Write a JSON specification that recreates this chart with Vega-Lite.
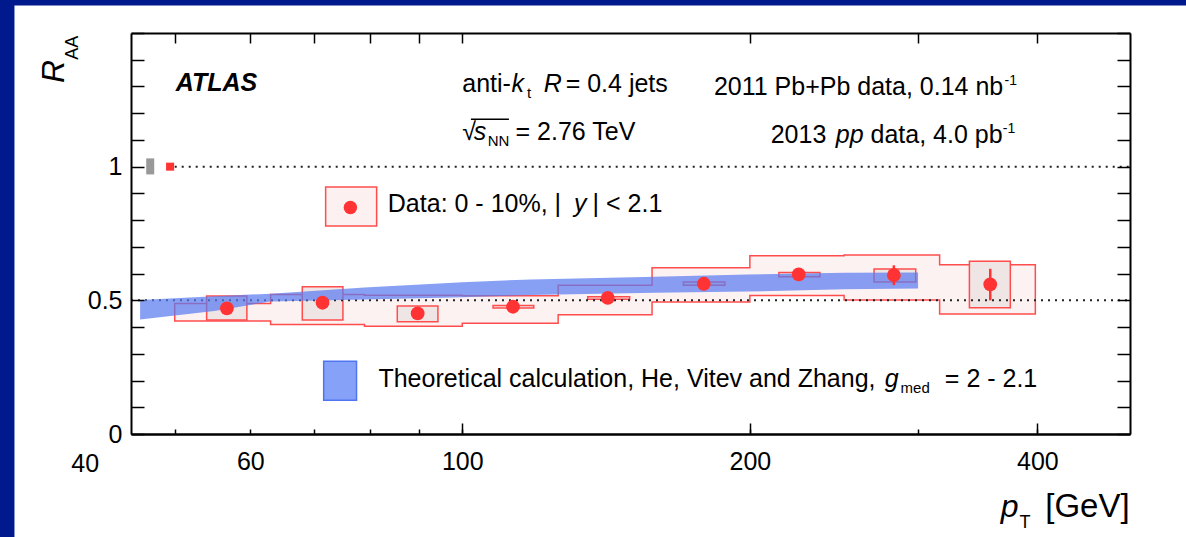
{
  "$schema": "https://vega.github.io/schema/vega-lite/v6.json",
  "width": 999,
  "height": 401,
  "autosize": {"type": "none"},
  "padding": {"left": 131, "top": 33, "right": 56, "bottom": 103},
  "background": "white",
  "config": {
    "view": {"stroke": null},
    "axis": {"domainColor": "black", "domainWidth": 2, "tickColor": "black", "tickWidth": 1.5, "labelFont": "Liberation Sans", "labelFontSize": 25, "labelColor": "black", "grid": false, "title": null, "labelOverlap": false, "labelFlush": false, "labelBound": false},
    "text": {"font": "Liberation Sans", "color": "black", "align": "left", "baseline": "alphabetic", "fontSize": 25}
  },
  "datasets": {
    "corr": [
      {"pt": 50, "lo": 0.423, "hi": 0.488},
      {"pt": 63, "lo": 0.410, "hi": 0.522},
      {"pt": 79, "lo": 0.403, "hi": 0.519},
      {"pt": 100, "lo": 0.414, "hi": 0.517},
      {"pt": 126, "lo": 0.446, "hi": 0.556},
      {"pt": 158, "lo": 0.494, "hi": 0.622},
      {"pt": 200, "lo": 0.518, "hi": 0.667},
      {"pt": 251, "lo": 0.501, "hi": 0.670},
      {"pt": 316, "lo": 0.449, "hi": 0.633},
      {"pt": 398, "lo": 0.449, "hi": 0.633}
    ],
    "pts": [
      {"pt": 56.7, "R": 0.470, "slo": 0.459, "shi": 0.481, "ulo": 0.426, "uhi": 0.516, "bxlo": 54.0, "bxhi": 59.5},
      {"pt": 71.4, "R": 0.491, "slo": 0.479, "shi": 0.503, "ulo": 0.426, "uhi": 0.551, "bxlo": 68.0, "bxhi": 75.0},
      {"pt": 89.8, "R": 0.451, "slo": 0.440, "shi": 0.462, "ulo": 0.420, "uhi": 0.479, "bxlo": 85.5, "bxhi": 94.3},
      {"pt": 113, "R": 0.476, "slo": 0.465, "shi": 0.487, "ulo": 0.471, "uhi": 0.481, "bxlo": 107.7, "bxhi": 118.8},
      {"pt": 142, "R": 0.509, "slo": 0.498, "shi": 0.520, "ulo": 0.504, "uhi": 0.513, "bxlo": 135.3, "bxhi": 149.7},
      {"pt": 179, "R": 0.562, "slo": 0.550, "shi": 0.574, "ulo": 0.556, "uhi": 0.569, "bxlo": 170.4, "bxhi": 188.3},
      {"pt": 225, "R": 0.597, "slo": 0.585, "shi": 0.609, "ulo": 0.588, "uhi": 0.604, "bxlo": 214.5, "bxhi": 236.8},
      {"pt": 283, "R": 0.594, "slo": 0.557, "shi": 0.631, "ulo": 0.569, "uhi": 0.617, "bxlo": 269.8, "bxhi": 298.3},
      {"pt": 357, "R": 0.560, "slo": 0.500, "shi": 0.618, "ulo": 0.472, "uhi": 0.646, "bxlo": 339.5, "bxhi": 374.7}
    ],
    "theory": [
      {"pt": 46, "lo": 0.428, "hi": 0.501},
      {"pt": 55, "lo": 0.460, "hi": 0.515},
      {"pt": 63, "lo": 0.496, "hi": 0.525},
      {"pt": 79, "lo": 0.503, "hi": 0.548},
      {"pt": 100, "lo": 0.512, "hi": 0.568},
      {"pt": 118, "lo": 0.5195, "hi": 0.578},
      {"pt": 159, "lo": 0.528, "hi": 0.588},
      {"pt": 199, "lo": 0.533, "hi": 0.597},
      {"pt": 251, "lo": 0.541, "hi": 0.603},
      {"pt": 300, "lo": 0.5445, "hi": 0.6045}
    ]
  },
  "resolve": {"axis": {"x": "independent", "y": "independent"}},
  "layer": [
    {"data": {"name": "corr"}, "mark": {"type": "area", "interpolate": "step-after", "fill": "#fdf2f2", "stroke": "#ff4d4d", "strokeWidth": 1.5},
     "encoding": {
       "x": {"field": "pt", "type": "quantitative", "scale": {"type": "log", "domain": [45, 500], "nice": false},
             "axis": {"zindex": 2, "orient": "bottom", "values": [50, 60, 70, 80, 90, 100, 200, 300, 400], "tickSize": -5, "labelPadding": 20, "labelExpr": "indexof([60,100,200,400], datum.value) >= 0 ? toString(datum.value) : ''"}},
       "y": {"field": "lo", "type": "quantitative", "scale": {"domain": [0, 1.5], "nice": false, "zero": false},
             "axis": {"zindex": 2, "orient": "left", "values": [0, 0.1, 0.2, 0.3, 0.4, 0.5, 0.6, 0.7, 0.8, 0.9, 1, 1.1, 1.2, 1.3, 1.4, 1.5], "tickSize": -13, "labelPadding": 22, "labelExpr": "datum.value == 0 ? '0' : (datum.value == 0.5 ? '0.5' : (datum.value == 1 ? '1' : ''))"}},
       "y2": {"field": "hi"}}},
    {"data": {"values": [{}]}, "mark": {"type": "rect", "fill": "#001a8e"},
     "encoding": {"x": {"datum": 30, "type": "quantitative", "axis": null}, "x2": {"datum": 33.98},
                  "y": {"datum": -0.5, "type": "quantitative", "axis": null}, "y2": {"datum": 1.7}}},
    {"data": {"values": [{}]}, "mark": {"type": "rect", "fill": "#001a8e"},
     "encoding": {"x": {"datum": 30, "type": "quantitative", "axis": null}, "x2": {"datum": 600},
                  "y": {"datum": 1.6031, "type": "quantitative", "axis": null}, "y2": {"datum": 1.7}}},
    {"data": {"name": "pts"}, "mark": {"type": "rect", "fill": "#f0e5e5", "stroke": "#ff4d4d", "strokeWidth": 1.5},
     "encoding": {
       "x": {"field": "bxlo", "type": "quantitative", "axis": {"zindex": 2, "orient": "bottom", "values": [100, 200, 400], "tickSize": -11, "labels": false}},
       "x2": {"field": "bxhi"},
       "y": {"field": "ulo", "type": "quantitative", "axis": {"zindex": 2, "orient": "right", "values": [0, 0.1, 0.2, 0.3, 0.4, 0.5, 0.6, 0.7, 0.8, 0.9, 1, 1.1, 1.2, 1.3, 1.4, 1.5], "tickSize": -13, "labels": false}},
       "y2": {"field": "uhi"}}},
    {"data": {"values": [{}]}, "mark": {"type": "rule", "stroke": "#222222", "strokeWidth": 2, "strokeDash": [2, 5]},
     "encoding": {"x": {"datum": 50, "type": "quantitative", "axis": null}, "x2": {"datum": 500}, "y": {"datum": 1, "type": "quantitative", "axis": null}}},
    {"data": {"values": [{}]}, "mark": {"type": "rule", "stroke": "#222222", "strokeWidth": 2, "strokeDash": [2, 5]},
     "encoding": {"x": {"datum": 45, "type": "quantitative", "axis": null}, "x2": {"datum": 500}, "y": {"datum": 0.5, "type": "quantitative", "axis": null}}},
    {"data": {"name": "theory"}, "mark": {"type": "area", "fill": "#5a7cf0", "fillOpacity": 0.72},
     "encoding": {
       "x": {"field": "pt", "type": "quantitative", "axis": {"zindex": 2, "orient": "top", "values": [50, 60, 70, 80, 90, 100, 200, 300, 400], "tickSize": -10, "labels": false}},
       "y": {"field": "lo", "type": "quantitative", "axis": null},
       "y2": {"field": "hi"}}},
    {"data": {"name": "pts"}, "mark": {"type": "rule", "stroke": "#ff3333", "strokeWidth": 2.5},
     "encoding": {"x": {"field": "pt", "type": "quantitative", "axis": null}, "y": {"field": "slo", "type": "quantitative", "axis": null}, "y2": {"field": "shi"}}},
    {"data": {"name": "pts"}, "mark": {"type": "point", "shape": "circle", "filled": true, "size": 190, "color": "#ff3333", "opacity": 1},
     "encoding": {"x": {"field": "pt", "type": "quantitative", "axis": null}, "y": {"field": "R", "type": "quantitative", "axis": null}}},
    {"data": {"values": [{}]}, "mark": {"type": "rect", "fill": "#999999"},
     "encoding": {"x": {"datum": 46.68, "type": "quantitative", "axis": null}, "x2": {"datum": 47.59}, "y": {"datum": 0.971, "type": "quantitative", "axis": null}, "y2": {"datum": 1.031}}},
    {"data": {"values": [{}]}, "mark": {"type": "rect", "fill": "#ff3333"},
     "encoding": {"x": {"datum": 48.97, "type": "quantitative", "axis": null}, "x2": {"datum": 49.93}, "y": {"datum": 0.985, "type": "quantitative", "axis": null}, "y2": {"datum": 1.015}}},
    {"data": {"values": [{}]}, "mark": {"type": "rect", "fill": "#fdf0f0", "stroke": "#ff4d4d", "strokeWidth": 1.5},
     "encoding": {"x": {"datum": 71.94, "type": "quantitative", "axis": null}, "x2": {"datum": 81.35}, "y": {"datum": 0.778, "type": "quantitative", "axis": null}, "y2": {"datum": 0.924}}},
    {"data": {"values": [{}]}, "mark": {"type": "point", "shape": "circle", "filled": true, "size": 180, "color": "#ff3333", "opacity": 1},
     "encoding": {"x": {"datum": 76.36, "type": "quantitative", "axis": null}, "y": {"datum": 0.8472, "type": "quantitative", "axis": null}}},
    {"data": {"values": [{}]}, "mark": {"type": "rect", "fill": "#86a2f8", "stroke": "#4f74f2", "strokeWidth": 1.5},
     "encoding": {"x": {"datum": 71.6, "type": "quantitative", "axis": null}, "x2": {"datum": 77.5}, "y": {"datum": 0.1262, "type": "quantitative", "axis": null}, "y2": {"datum": 0.2723}}},
    {"data": {"values": [{}]}, "mark": {"type": "text", "text": "ATLAS", "fontSize": 25, "fontStyle": "italic", "fontWeight": "bold"},
     "encoding": {"x": {"datum": 50.12, "type": "quantitative", "axis": null}, "y": {"datum": 1.2846, "type": "quantitative", "axis": null}}},
    {"data": {"values": [{}]}, "mark": {"type": "text", "text": "anti-"},
     "encoding": {"x": {"datum": 100.0, "type": "quantitative", "axis": null}, "y": {"datum": 1.2809, "type": "quantitative", "axis": null}}},
    {"data": {"values": [{}]}, "mark": {"type": "text", "text": "k", "fontStyle": "italic"},
     "encoding": {"x": {"datum": 112.6, "type": "quantitative", "axis": null}, "y": {"datum": 1.2809, "type": "quantitative", "axis": null}}},
    {"data": {"values": [{}]}, "mark": {"type": "text", "text": "t", "fontSize": 15},
     "encoding": {"x": {"datum": 116.9, "type": "quantitative", "axis": null}, "y": {"datum": 1.2584, "type": "quantitative", "axis": null}}},
    {"data": {"values": [{}]}, "mark": {"type": "text", "text": "R", "fontStyle": "italic"},
     "encoding": {"x": {"datum": 121.7, "type": "quantitative", "axis": null}, "y": {"datum": 1.2809, "type": "quantitative", "axis": null}}},
    {"data": {"values": [{}]}, "mark": {"type": "text", "text": "= 0.4 jets"},
     "encoding": {"x": {"datum": 128.3, "type": "quantitative", "axis": null}, "y": {"datum": 1.2809, "type": "quantitative", "axis": null}}},
    {"data": {"values": [{}]}, "mark": {"type": "text", "text": "√"},
     "encoding": {"x": {"datum": 100.0, "type": "quantitative", "axis": null}, "y": {"datum": 1.1, "type": "quantitative", "axis": null}}},
    {"data": {"values": [{}]}, "mark": {"type": "rule", "stroke": "black", "strokeWidth": 1.5},
     "encoding": {"x": {"datum": 102.1, "type": "quantitative", "axis": null}, "x2": {"datum": 111.9}, "y": {"datum": 1.1775, "type": "quantitative", "axis": null}}},
    {"data": {"values": [{}]}, "mark": {"type": "text", "text": "s", "fontStyle": "italic"},
     "encoding": {"x": {"datum": 102.8, "type": "quantitative", "axis": null}, "y": {"datum": 1.1, "type": "quantitative", "axis": null}}},
    {"data": {"values": [{}]}, "mark": {"type": "text", "text": "NN", "fontSize": 15},
     "encoding": {"x": {"datum": 106.3, "type": "quantitative", "axis": null}, "y": {"datum": 1.0775, "type": "quantitative", "axis": null}}},
    {"data": {"values": [{}]}, "mark": {"type": "text", "text": "= 2.76 TeV"},
     "encoding": {"x": {"datum": 113.7, "type": "quantitative", "axis": null}, "y": {"datum": 1.1, "type": "quantitative", "axis": null}}},
    {"data": {"values": [{}]}, "mark": {"type": "text", "text": "2011 Pb+Pb data, 0.14 nb"},
     "encoding": {"x": {"datum": 183.4, "type": "quantitative", "axis": null}, "y": {"datum": 1.2685, "type": "quantitative", "axis": null}}},
    {"data": {"values": [{}]}, "mark": {"type": "text", "text": "-1", "fontSize": 14},
     "encoding": {"x": {"datum": 369.5, "type": "quantitative", "axis": null}, "y": {"datum": 1.306, "type": "quantitative", "axis": null}}},
    {"data": {"values": [{}]}, "mark": {"type": "text", "text": "2013"},
     "encoding": {"x": {"datum": 210.3, "type": "quantitative", "axis": null}, "y": {"datum": 1.0876, "type": "quantitative", "axis": null}}},
    {"data": {"values": [{}]}, "mark": {"type": "text", "text": "pp", "fontStyle": "italic"},
     "encoding": {"x": {"datum": 246.0, "type": "quantitative", "axis": null}, "y": {"datum": 1.0876, "type": "quantitative", "axis": null}}},
    {"data": {"values": [{}]}, "mark": {"type": "text", "text": "data, 4.0 pb"},
     "encoding": {"x": {"datum": 267.5, "type": "quantitative", "axis": null}, "y": {"datum": 1.0876, "type": "quantitative", "axis": null}}},
    {"data": {"values": [{}]}, "mark": {"type": "text", "text": "-1", "fontSize": 14},
     "encoding": {"x": {"datum": 368.0, "type": "quantitative", "axis": null}, "y": {"datum": 1.1262, "type": "quantitative", "axis": null}}},
    {"data": {"values": [{}]}, "mark": {"type": "text", "text": "Data: 0 - 10%, |"},
     "encoding": {"x": {"datum": 83.57, "type": "quantitative", "axis": null}, "y": {"datum": 0.8303, "type": "quantitative", "axis": null}}},
    {"data": {"values": [{}]}, "mark": {"type": "text", "text": "y", "fontStyle": "italic"},
     "encoding": {"x": {"datum": 130.9, "type": "quantitative", "axis": null}, "y": {"datum": 0.8303, "type": "quantitative", "axis": null}}},
    {"data": {"values": [{}]}, "mark": {"type": "text", "text": "| < 2.1"},
     "encoding": {"x": {"datum": 136.9, "type": "quantitative", "axis": null}, "y": {"datum": 0.8303, "type": "quantitative", "axis": null}}},
    {"data": {"values": [{}]}, "mark": {"type": "text", "text": "Theoretical calculation, He, Vitev and Zhang,"},
     "encoding": {"x": {"datum": 81.7, "type": "quantitative", "axis": null}, "y": {"datum": 0.1768, "type": "quantitative", "axis": null}}},
    {"data": {"values": [{}]}, "mark": {"type": "text", "text": "g", "fontStyle": "italic"},
     "encoding": {"x": {"datum": 276.8, "type": "quantitative", "axis": null}, "y": {"datum": 0.1768, "type": "quantitative", "axis": null}}},
    {"data": {"values": [{}]}, "mark": {"type": "text", "text": "med", "fontSize": 15},
     "encoding": {"x": {"datum": 287.6, "type": "quantitative", "axis": null}, "y": {"datum": 0.1524, "type": "quantitative", "axis": null}}},
    {"data": {"values": [{}]}, "mark": {"type": "text", "text": "= 2 - 2.1"},
     "encoding": {"x": {"datum": 320.0, "type": "quantitative", "axis": null}, "y": {"datum": 0.1768, "type": "quantitative", "axis": null}}},
    {"data": {"values": [{}]}, "mark": {"type": "text", "text": "40", "fontSize": 25, "align": "center", "baseline": "top"},
     "encoding": {"x": {"datum": 40.3, "type": "quantitative", "axis": null}, "y": {"datum": -0.0685, "type": "quantitative", "axis": null}}},
    {"data": {"values": [{}]}, "mark": {"type": "text", "text": "R", "fontSize": 32, "fontStyle": "italic", "angle": 270},
     "encoding": {"x": {"datum": 38.25, "type": "quantitative", "axis": null}, "y": {"datum": 1.3131, "type": "quantitative", "axis": null}}},
    {"data": {"values": [{}]}, "mark": {"type": "text", "text": "AA", "fontSize": 18, "angle": 270},
     "encoding": {"x": {"datum": 39.56, "type": "quantitative", "axis": null}, "y": {"datum": 1.3996, "type": "quantitative", "axis": null}}},
    {"data": {"values": [{}]}, "mark": {"type": "text", "text": "p", "fontSize": 32, "fontStyle": "italic"},
     "encoding": {"x": {"datum": 366.2, "type": "quantitative", "axis": null}, "y": {"datum": -0.312, "type": "quantitative", "axis": null}}},
    {"data": {"values": [{}]}, "mark": {"type": "text", "text": "T", "fontSize": 18},
     "encoding": {"x": {"datum": 383.0, "type": "quantitative", "axis": null}, "y": {"datum": -0.3532, "type": "quantitative", "axis": null}}},
    {"data": {"values": [{}]}, "mark": {"type": "text", "text": "[GeV]", "fontSize": 33, "align": "right"},
     "encoding": {"x": {"datum": 499.5, "type": "quantitative", "axis": null}, "y": {"datum": -0.312, "type": "quantitative", "axis": null}}}
  ]
}
